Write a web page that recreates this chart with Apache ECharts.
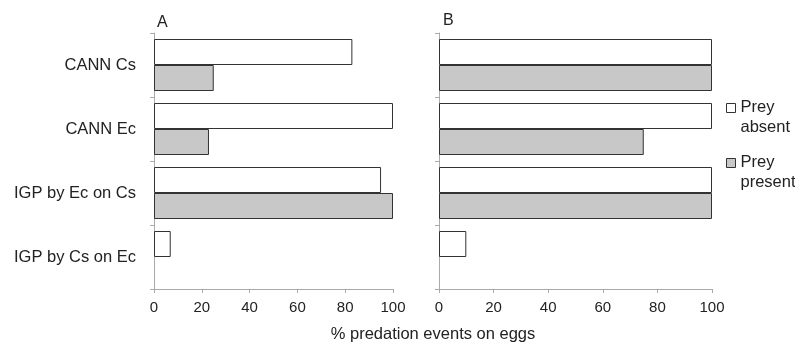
<!DOCTYPE html>
<html>
<head>
<meta charset="utf-8">
<script src="https://cdn.jsdelivr.net/npm/echarts@6/dist/echarts.min.js"></script>
<style>html,body{margin:0;padding:0;background:#fff}#c{width:795px;height:344px}</style>
</head>
<body>
<div id="c"></div>
<script>
var categories = ['CANN Cs', 'CANN Ec', 'IGP by Ec on Cs', 'IGP by Cs on Ec'];
var xTicks = [0, 20, 40, 60, 80, 100];
var seriesNames = ['Prey absent', 'Prey present'];
var absentA = [83, 100, 95, 7];
var presentA = [25, 23, 100, 0];
var absentB = [100, 100, 100, 10];
var presentB = [100, 75, 100, 0];
var panelLabels = ['A', 'B'];
var axisTitle = '% predation events on eggs';

var FONT = '"Liberation Sans", Arial, sans-serif';
var chart = echarts.init(document.getElementById('c'), null, {renderer: 'canvas'});

function xAx(i) {
  return {
    type: 'value', gridIndex: i, min: xTicks[0], max: xTicks[xTicks.length - 1], interval: 20,
    axisLine: {show: true, lineStyle: {color: '#aaaaaa', width: 1}},
    axisTick: {show: true, length: 4, lineStyle: {color: '#aaaaaa'}},
    splitLine: {show: false},
    axisLabel: {color: '#222', fontFamily: FONT, fontSize: 15, margin: 11}
  };
}
function yAx(i) {
  return {
    type: 'category', gridIndex: i, data: categories, inverse: true,
    axisLine: {show: true, lineStyle: {color: '#aaaaaa', width: 1}},
    axisTick: {show: true, length: 4, lineStyle: {color: '#aaaaaa'}},
    axisLabel: {show: i === 0, color: '#222', fontFamily: FONT, fontSize: 16.5, margin: 18}
  };
}
function toItems(arr) {
  return arr.map(function (v) {
    return v === 0 ? {value: v, itemStyle: {borderWidth: 0, opacity: 0}} : v;
  });
}
function barSeries(name, data, i, color) {
  return {
    name: name, type: 'bar', xAxisIndex: i, yAxisIndex: i, data: toItems(data),
    barWidth: 26, barGap: '0%',
    itemStyle: {color: color, borderColor: '#333', borderWidth: 1},
    emphasis: {disabled: true}
  };
}

var option = {
  animation: false,
  backgroundColor: '#fff',
  grid: [
    {left: 154, top: 33, width: 239, height: 256, containLabel: false},
    {left: 439, top: 33, width: 273, height: 256, containLabel: false}
  ],
  xAxis: [xAx(0), xAx(1)],
  yAxis: [yAx(0), yAx(1)],
  title: [
    {text: panelLabels[0], left: 152, top: 10, textStyle: {fontFamily: FONT, fontSize: 16, fontWeight: 'normal', color: '#222'}},
    {text: panelLabels[1], left: 438, top: 8, textStyle: {fontFamily: FONT, fontSize: 16, fontWeight: 'normal', color: '#222'}},
    {text: axisTitle, left: 428, top: 321, textAlign: 'center', textStyle: {fontFamily: FONT, fontSize: 16.5, fontWeight: 'normal', color: '#222'}}
  ],
  legend: {
    orient: 'vertical', left: 726, top: 97, itemGap: 15, padding: 0,
    itemWidth: 9, itemHeight: 29, itemStyle: {borderColor: '#333', borderWidth: 1},
    icon: 'path://M0 0H10V10H0Z M0 30L0.01 30',
    data: seriesNames,
    formatter: function (n) { return n.replace(' ', '\n'); },
    textStyle: {fontFamily: FONT, fontSize: 16.5, color: '#222', lineHeight: 20, overflow: 'none', width: 70},
    selectedMode: false
  },
  series: [
    barSeries(seriesNames[0], absentA, 0, '#ffffff'),
    barSeries(seriesNames[1], presentA, 0, '#c8c8c8'),
    barSeries(seriesNames[0], absentB, 1, '#ffffff'),
    barSeries(seriesNames[1], presentB, 1, '#c8c8c8')
  ]
};
chart.setOption(option);
</script>
</body>
</html>
